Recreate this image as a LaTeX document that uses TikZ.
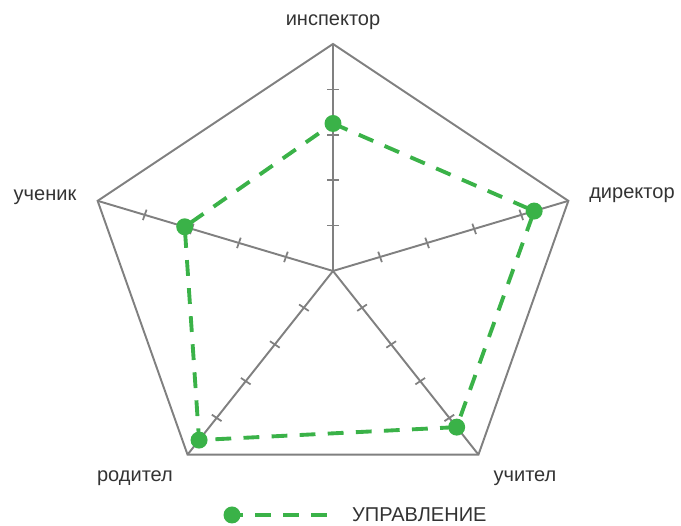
\documentclass[tikz,border=0pt]{standalone}
\usepackage{fontspec}
\setmainfont{Liberation Sans}
\definecolor{axisgray}{RGB}{128,128,128}
\definecolor{seriesgreen}{RGB}{58,178,72}

\begin{document}
\begin{tikzpicture}[x=0.02cm, y=0.02cm]
    \tikzstyle{every node}=[font=\fontsize{11.4}{13}\selectfont, text=black!80]
    \tikzstyle{axis} = [draw=axisgray, line width=1.1pt]
    \tikzstyle{dot} = [circle, fill=seriesgreen, inner sep=0pt, minimum size=0.34cm]
    \tikzstyle{series} = [draw=seriesgreen, line width=2.2pt, dash pattern=on 9pt off 7pt]
    \useasboundingbox (0,0) rectangle (681,526);
    \begin{scope}[shift={(333,255)}, xscale=1.09]
        \coordinate (c) at (0,0);
        % axes with tick marks
        \foreach \name/\ang in {insp/90, dir/18, uch/-54, rod/-126, stu/162} {
            \coordinate (\name) at (\ang:227);
            \draw[axis] (c) -- (\name);
            \foreach \k in {1,...,4}
                \draw[axis, line width=1pt, rotate=\ang] (\k*45.4,-5.5) -- (\k*45.4,5.5);
        }
        \draw[axis] (insp) -- (dir) -- (uch) -- (rod) -- (stu) -- cycle;
        % data
        \coordinate (pinsp) at (90:147.5);
        \coordinate (pdir) at (18:194);
        \coordinate (puch) at (-54:193);
        \coordinate (prod) at (-126:209);
        \coordinate (pstu) at (162:143);
        \draw[series] (pinsp) -- (pdir) -- (puch) -- (prod) -- (pstu) -- cycle;
        \foreach \p in {pinsp, pdir, puch, prod, pstu}
            \node[dot] at (\p) {};
    \end{scope}
    % labels
    \node (linsp) at (333,504) {инспектор};
    \node (ldir) at (632,331) {директор};
    \node (lstu) at (45,329) {ученик};
    \node (lrod) at (135,48) {родител};
    \node (luch) at (525,48) {учител};
    % legend
    \coordinate (legend) at (330,11);
    \draw[series, dash phase=2.8pt] (232,11) -- (legend);
    \node[dot] (legdot) at (232,11) {};
    \node[right] (legtext) at (346,11) {УПРАВЛЕНИЕ};
\end{tikzpicture}
\end{document}
